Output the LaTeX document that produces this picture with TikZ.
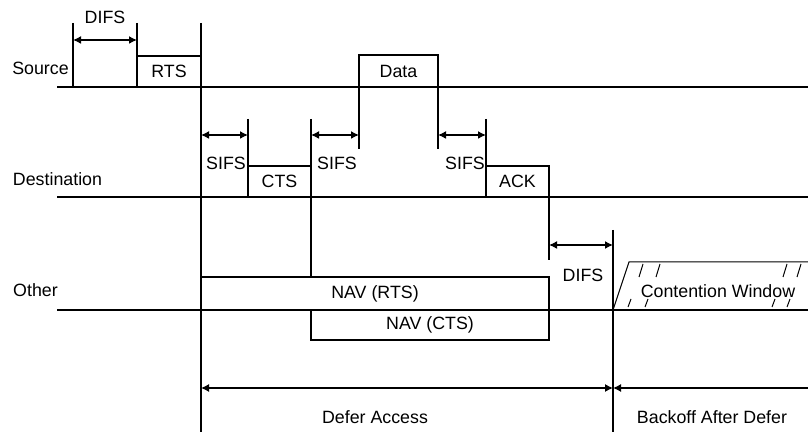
\documentclass[tikz,border=0pt]{standalone}
\usepackage{fontspec}
\setmainfont{Liberation Sans}
\usetikzlibrary{arrows.meta}

\begin{document}
\begin{tikzpicture}[x=0.5pt, y=-0.5pt, font=\fontsize{8.9}{10.5}\selectfont,
    marco/.style={draw, line width=0.75pt, inner sep=0pt, outer sep=0pt},
    linea/.style={line width=0.75pt},
    fina/.style={line width=0.5pt},
    cota/.style={line width=0.75pt, {Latex[length=4pt,width=4pt]}-{Latex[length=4pt,width=4pt]}},
    tope/.style={line width=0.6pt, {Latex[length=4pt,width=4pt]}-}
  ]
  \useasboundingbox (0,0) rectangle (808,432);
  % estaciones
  \node (src) at (40.5,68) {Source};
  \node (dst) at (57.5,179) {Destination};
  \node (oth) at (35.5,290) {Other};
  \coordinate (srcA) at (57,87);  \coordinate (srcB) at (808,87);
  \coordinate (dstA) at (57,197); \coordinate (dstB) at (808,197);
  \coordinate (othA) at (57,310); \coordinate (othB) at (808,310);
  \draw[linea] (srcA) -- (srcB);
  \draw[linea] (dstA) -- (dstB);
  \draw[linea] (othA) -- (othB);

  % tramas
  \node[marco, minimum width=32pt, minimum height=15.5pt] (rts) at (169,71.5) {RTS};
  \node[marco, minimum width=39.5pt, minimum height=16pt] (data) at (398.5,71) {Data};
  \node[marco, minimum width=31.5pt, minimum height=15.5pt] (cts) at (279.5,181.5) {CTS};
  \node[marco, minimum width=31.5pt, minimum height=15.5pt] (ack) at (517.5,181.5) {ACK};
  \node[marco, minimum width=174pt, minimum height=16.5pt] (navrts) at (375,293.5) {NAV (RTS)};
  \node[marco, minimum width=119pt, minimum height=15pt] (navcts) at (430,325) {NAV (CTS)};

  % marcas verticales
  \coordinate (d1a) at (73,23);   \coordinate (d1b) at (73,87);
  \coordinate (d2a) at (137,23);
  \coordinate (t0a) at (201,23);  \coordinate (t0b) at (201,432);
  \coordinate (t1a) at (248,119);
  \coordinate (t2a) at (311,119);
  \coordinate (t3b) at (359,149);
  \coordinate (t4b) at (438,149);
  \coordinate (t5a) at (486,119);
  \coordinate (t6b) at (549,260);
  \coordinate (t7a) at (613,230); \coordinate (t7b) at (613,432);
  \draw[linea] (d1a) -- (d1b);
  \draw[linea] (d2a) -- (rts.north west);
  \draw[linea] (t0a) -- (t0b);
  \draw[linea] (t1a) -- (cts.north west);
  \draw[linea] (t2a) -- (navrts.north -| t2a);
  \draw[linea] (data.south west) -- (t3b);
  \draw[linea] (data.south east) -- (t4b);
  \draw[linea] (t5a) -- (ack.north west);
  \draw[linea] (ack.south east) -- (t6b);
  \draw[linea] (t7a) -- (t7b);

  % intervalos
  \coordinate (difs1a) at (73,40);   \coordinate (difs1b) at (137,40);
  \coordinate (sifs1a) at (201,135); \coordinate (sifs1b) at (248,135);
  \coordinate (sifs2a) at (311,135); \coordinate (sifs2b) at (359,135);
  \coordinate (sifs3a) at (438,135); \coordinate (sifs3b) at (486,135);
  \coordinate (difs2a) at (549,245); \coordinate (difs2b) at (613,245);
  \draw[cota] (difs1a) -- (difs1b);
  \draw[cota] (sifs1a) -- (sifs1b);
  \draw[cota] (sifs2a) -- (sifs2b);
  \draw[cota] (sifs3a) -- (sifs3b);
  \draw[cota] (difs2a) -- (difs2b);
  \node (ldifs1) at (105,17) {DIFS};
  \node (lsifs1) at (226,163) {SIFS};
  \node (lsifs2) at (337,163) {SIFS};
  \node (lsifs3) at (465,163) {SIFS};
  \node (ldifs2) at (583,275) {DIFS};

  % ventana de contienda
  \coordinate (cw0) at (613,310); \coordinate (cw1) at (629,262); \coordinate (cw2) at (808,262);
  \draw[fina] (cw0) -- (cw1) -- (cw2);
  \foreach \x in {639,656,783,797}
    \draw[fina] (\x,277) -- ++(4,-13);
  \foreach \x in {628,645,772,787}
    \draw[fina] (\x,307) -- ++(3,-8);
  \node (cw) at (718,291) {Contention Window};

  % aplazamiento
  \coordinate (defA) at (201,388); \coordinate (defB) at (613,388); \coordinate (defC) at (808,388);
  \draw[cota, line width=0.6pt] (defA) -- (defB);
  \draw[tope] (defB) -- (defC);
  \node (defer) at (375,417) {Defer Access};
  \node (backoff) at (712,417) {Backoff After Defer};
\end{tikzpicture}
\end{document}
